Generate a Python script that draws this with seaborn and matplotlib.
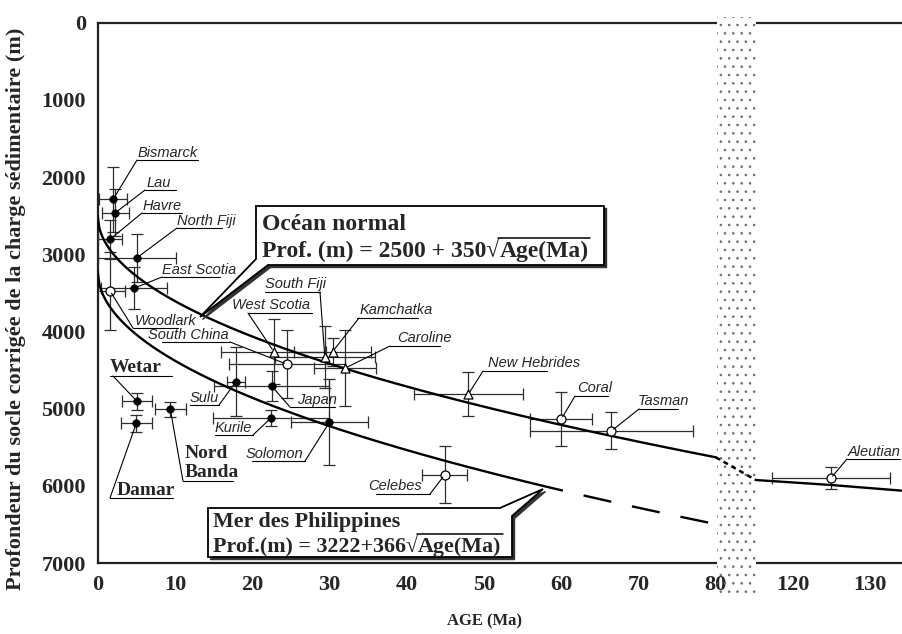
import numpy as np
import pandas as pd
import matplotlib
matplotlib.use("Agg")
import matplotlib.pyplot as plt
from matplotlib.patches import Polygon, Rectangle
from matplotlib.lines import Line2D
import seaborn as sns

# --- data ---
sites = ["Bismarck", "Lau", "Havre", "North Fiji", "East Scotia", "Woodlark",
         "Wetar", "Damar", "Nord Banda", "Sulu", "Japan", "Kurile", "Solomon",
         "West Scotia", "South China", "South Fiji", "Kamchatka", "Caroline",
         "New Hebrides", "Coral", "Tasman", "Celebes", "Aleutian"]
ages = [2.0, 2.3, 1.6, 5.1, 4.7, 1.6, 5.1, 5.0, 9.4, 17.9, 22.5, 22.4, 30.0,
        22.8, 24.5, 29.4, 30.4, 32.0, 48.0, 60.0, 66.5, 44.9, 124.9]
depths = [2288, 2461, 2806, 3044, 3440, 3475, 4907, 5189, 5008, 4650, 4706, 5124, 5176,
          4262, 4425, 4334, 4262, 4477, 4810, 5137, 5289, 5859, 5902]
age_err = [1.8, 1.8, 1.6, 5.1, 4.3, 1.9, 1.9, 2.0, 2.0, 1.2, 7.4, 7.5, 5.0,
           6.8, 7.5, 6.5, 5.0, 4.0, 7.0, 4.0, 10.5, 2.9, 7.6]
depth_err = [420, 300, 250, 310, 270, 510, 110, 110, 100, 450, 195, 100, 560,
             420, 440, 400, 180, 490, 280, 350, 240, 370, 145]
symbols = ["plein", "plein", "plein", "plein", "plein", "ouvert",
           "plein", "plein", "plein", "plein", "plein", "plein", "plein",
           "triangle", "ouvert", "triangle", "triangle", "triangle",
           "triangle", "ouvert", "ouvert", "ouvert", "ouvert"]

# model curves (coefficients from the boxes)
normal_a, normal_b = 2500, 350
phil_a, phil_b = 3222, 366
phil_solid_end = 57.7
# old ocean segment beyond the break
old_ages = [115.2, 124.9, 134.0]
old_depths = [5925, 5989, 6062]

tick_ages = [0, 10, 20, 30, 40, 50, 60, 70, 80, 120, 130]
depth_ticks = [0, 1000, 2000, 3000, 4000, 5000, 6000, 7000]


def to_axis(a):
    # broken axis: everything beyond 80 Ma is shifted by 30 Ma
    a = np.asarray(a, dtype=float)
    return np.where(a > 80, a - 30, a)


df = pd.DataFrame({"site": sites, "age": ages, "depth": depths,
                   "age_err": age_err, "depth_err": depth_err, "symbol": symbols})
df["x"] = to_axis(df["age"])

W, H = 902, 634


def fxy(x, y):
    return (x / W, 1 - y / H)


sns.set_style("white")
plt.rcParams["font.family"] = ["Liberation Serif", "DejaVu Serif"]
plt.rcParams["hatch.linewidth"] = 0.6

fig = plt.figure(figsize=(W / 100, H / 100), dpi=100)
ax = fig.add_axes([97.7 / W, 1 - 563 / H, (W - 97.7) / W, (563 - 22.7) / H])

# curves
age_grid = np.linspace(0, 80, 400)
sns.lineplot(x=age_grid, y=normal_a + normal_b * np.sqrt(age_grid), ax=ax,
             color="black", lw=1.7, estimator=None, sort=False, zorder=4)
solid = age_grid <= phil_solid_end
sns.lineplot(x=age_grid[solid], y=phil_a + phil_b * np.sqrt(age_grid[solid]), ax=ax,
             color="black", lw=1.7, estimator=None, sort=False, zorder=4)
dash = age_grid >= phil_solid_end - 0.3
ax.plot(age_grid[dash], phil_a + phil_b * np.sqrt(age_grid[dash]),
        color="black", lw=1.7, ls=(3, (12, 9)), zorder=4)
sns.lineplot(x=to_axis(old_ages), y=old_depths, ax=ax, color="black", lw=1.7,
             estimator=None, sort=False, zorder=4)
ax.plot(to_axis([80, old_ages[0]]), [normal_a + normal_b * np.sqrt(80), old_depths[0]],
        color="black", lw=1.8, ls=(0, (2, 1.6)), zorder=6, clip_on=False)

# error bars and symbols
ax.errorbar(df["x"], df["depth"], xerr=df["age_err"], yerr=df["depth_err"], fmt="none",
            ecolor="#2e2e2e", elinewidth=0.9, capsize=4, capthick=0.9, zorder=3)
sns.scatterplot(data=df[df["symbol"] == "plein"], x="x", y="depth", marker="o", s=30,
                color="black", edgecolor="black", ax=ax, zorder=5, legend=False)
sns.scatterplot(data=df[df["symbol"] == "ouvert"], x="x", y="depth", marker="o", s=42,
                color="white", edgecolor="black", linewidth=0.9, ax=ax, zorder=5, legend=False)
sns.scatterplot(data=df[df["symbol"] == "triangle"], x="x", y="depth", marker="^", s=42,
                color="white", edgecolor="black", linewidth=0.9, ax=ax, zorder=5, legend=False)

# axes
ax.set_xlim(0, (W - 97.7) / 7.725)
ax.set_ylim(7000, 0)
ax.set_xticks(to_axis(tick_ages))
ax.set_xticklabels([str(a) for a in tick_ages])
ax.set_yticks(depth_ticks)
ax.set_yticklabels([str(d) for d in depth_ticks])
ax.tick_params(axis="both", direction="out", length=6.5, width=1.3, labelsize=16, pad=2,
               color="#222222")
for lab in ax.get_xticklabels() + ax.get_yticklabels():
    lab.set_fontweight("bold")
for side in ["left", "bottom", "top"]:
    ax.spines[side].set_linewidth(1.6)
    ax.spines[side].set_color("#222222")
ax.spines["right"].set_visible(False)
ax.set_xlabel("AGE (Ma)", fontsize=12, fontweight="bold")
ax.xaxis.set_label_coords(0.4815, -0.094)
ax.set_ylabel("Profondeur du socle corrigée de la charge sédimentaire (m)",
              fontsize=16, fontweight="bold")
ax.yaxis.set_label_coords(-0.089, 0.47)

# stippled break band: white part hides the spines, dots run a bit past them
ax.add_patch(Rectangle((80.15, -75), 5.05, 7150, facecolor="white", edgecolor="#6a6a6a",
                       lw=0, hatch="..", clip_on=False, zorder=3.5))
ax.add_patch(Rectangle((80.15, 7075), 5.05, 340, facecolor="none", edgecolor="#6a6a6a",
                       lw=0, hatch="..", clip_on=False, zorder=2))

# site labels: text x, baseline y, underline x0, x1, y, leader attach x (pixels)
label_layout = {
    "Bismarck": (138, 157, 137, 198, 160, 137),
    "Lau": (147, 187, 145, 176, 190, 145),
    "Havre": (143, 210, 142, 182, 213, 142),
    "North Fiji": (177, 225, 177, 222, 228, 177),
    "East Scotia": (162, 274, 162, 220, 277, 162),
    "Woodlark": (135, 325, 133, 178, 328, 133),
    "South China": (148, 339, 162, 230, 342, 230),
    "West Scotia": (232, 309, 248, 312, 313, 248),
    "South Fiji": (265, 288, 265, 320, 292, 320),
    "Kamchatka": (360, 314, 357, 418, 318, 359),
    "Caroline": (397, 342, 390, 440, 346, 390),
    "Sulu": (190, 402, 190, 219, 405, 219),
    "Japan": (297, 404, 290, 335, 407, 290),
    "Kurile": (215, 432, 215, 253, 435, 253),
    "Solomon": (246, 458, 252, 305, 461, 305),
    "New Hebrides": (488, 367, 483, 547, 371, 483),
    "Coral": (577, 392, 575, 608, 396, 575),
    "Tasman": (638, 405, 638, 678, 409, 639),
    "Celebes": (368, 490, 376, 430, 494, 430),
    "Aleutian": (848, 456, 847, 900, 459, 847),
}
bold_layout = {
    "Wetar": (["Wetar"], 110, [372], 110, 172, 376, 113),
    "Damar": (["Damar"], 117, [495], 110, 173, 498, 110),
    "Nord Banda": (["Nord", "Banda"], 185, [458, 477], 183, 233, 481, 183),
}


def leader(site, ax_px, ay_px):
    row = df[df["site"] == site].iloc[0]
    ax.annotate("", xy=(row["x"], row["depth"]), xycoords="data",
                xytext=fxy(ax_px, ay_px), textcoords="figure fraction",
                arrowprops=dict(arrowstyle="-", color="black", lw=0.8,
                                shrinkA=0, shrinkB=2), zorder=6)


def underline(x0, x1, y, lw=0.8):
    fig.add_artist(Line2D([x0 / W, x1 / W], [1 - y / H, 1 - y / H],
                          transform=fig.transFigure, color="black", lw=lw))


for site, (tx, ty, x0, x1, uy, attach) in label_layout.items():
    fig.text(*fxy(tx, ty), site, fontsize=10.5, style="italic",
             family=["Liberation Sans", "DejaVu Sans"], va="baseline", ha="left")
    underline(x0, x1, uy)
    leader(site, attach, uy)

for site, (lines, tx, tys, x0, x1, uy, attach) in bold_layout.items():
    for line, ty in zip(lines, tys):
        fig.text(*fxy(tx, ty), line, fontsize=14, fontweight="bold",
                 va="baseline", ha="left")
    underline(x0, x1, uy)
    leader(site, attach, uy)

renderer = fig.canvas.get_renderer()


# callout boxes with a square-root formula (radical + overline)
def callout(pts, title, prefix, radicand, tx, tys, size):
    shadow = [fxy(x + 2.5, y + 2.5) for x, y in pts]
    fig.add_artist(Polygon(shadow, closed=True, facecolor="#333333", edgecolor="#333333",
                           lw=1.0, transform=fig.transFigure, zorder=7))
    fig.add_artist(Polygon([fxy(x, y) for x, y in pts], closed=True, facecolor="white",
                           edgecolor="black", lw=1.3, transform=fig.transFigure, zorder=8))
    fig.text(*fxy(tx, tys[0]), title, fontsize=size, fontweight="bold",
             va="baseline", ha="left", zorder=9)
    t1 = fig.text(*fxy(tx, tys[1]), prefix + "\u221a", fontsize=size, fontweight="bold",
                  va="baseline", ha="left", zorder=9)
    bb1 = t1.get_window_extent(renderer)
    t2 = fig.text(bb1.x1 / W, 1 - tys[1] / H, radicand, fontsize=size, fontweight="bold",
                  va="baseline", ha="left", zorder=9)
    bb2 = t2.get_window_extent(renderer)
    top = tys[1] - 0.80 * size * 100 / 72
    fig.add_artist(Line2D([(bb1.x1 - 1) / W, (bb2.x1 + 1) / W], [1 - top / H] * 2,
                          transform=fig.transFigure, color="black", lw=1.1, zorder=9))


callout([(256, 206), (256, 259), (200, 317), (268, 265), (604, 265), (604, 206)],
        "Océan normal", "Prof. (m) = %d + %d" % (normal_a, normal_b), "Age(Ma)",
        262, [230, 257], 17)
callout([(208, 508), (500, 508), (543, 489), (512, 516), (512, 557), (208, 557)],
        "Mer des Philippines", "Prof.(m) = %d+%d" % (phil_a, phil_b), "Age(Ma)",
        213, [527, 552], 15.8)

fig.savefig("out.png", dpi=100)
